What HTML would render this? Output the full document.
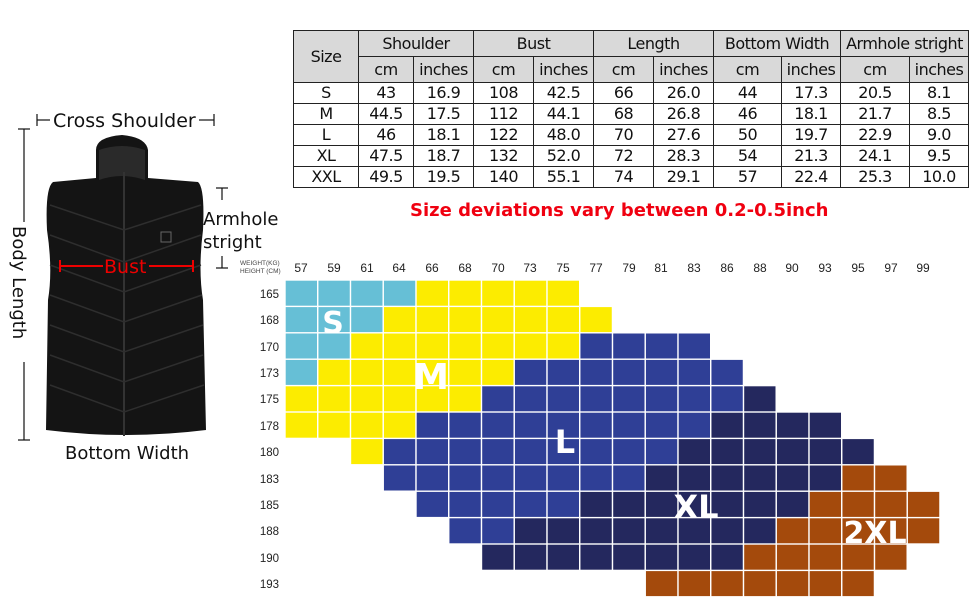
<!DOCTYPE html>
<html><head><meta charset="utf-8"><style>
body{margin:0;width:970px;height:600px;background:#fff;overflow:hidden;position:relative;font-family:"DejaVu Sans","Liberation Sans",sans-serif;}
table{position:absolute;left:293px;top:30px;border-collapse:collapse;font-size:16px;color:#111;}
td{border:1px solid #222;text-align:center;padding:0;height:20px;line-height:20px;letter-spacing:-0.5px}
tr.h td{background:#d9d9d9;height:25px;line-height:25px}
.t{position:absolute;white-space:nowrap}
</style></head><body>
<table>
<colgroup><col style="width:65px"><col style="width:55px"><col style="width:60px"><col style="width:60px"><col style="width:60px"><col style="width:60px"><col style="width:60px"><col style="width:68px"><col style="width:59px"><col style="width:69px"><col style="width:59px"></colgroup>
<tr class="h"><td rowspan="2">Size</td><td colspan="2">Shoulder</td><td colspan="2">Bust</td><td colspan="2">Length</td><td colspan="2">Bottom Width</td><td colspan="2">Armhole stright</td></tr>
<tr class="h"><td>cm</td><td>inches</td><td>cm</td><td>inches</td><td>cm</td><td>inches</td><td>cm</td><td>inches</td><td>cm</td><td>inches</td></tr>
<tr><td>S</td><td>43</td><td>16.9</td><td>108</td><td>42.5</td><td>66</td><td>26.0</td><td>44</td><td>17.3</td><td>20.5</td><td>8.1</td></tr>
<tr><td>M</td><td>44.5</td><td>17.5</td><td>112</td><td>44.1</td><td>68</td><td>26.8</td><td>46</td><td>18.1</td><td>21.7</td><td>8.5</td></tr>
<tr><td>L</td><td>46</td><td>18.1</td><td>122</td><td>48.0</td><td>70</td><td>27.6</td><td>50</td><td>19.7</td><td>22.9</td><td>9.0</td></tr>
<tr><td>XL</td><td>47.5</td><td>18.7</td><td>132</td><td>52.0</td><td>72</td><td>28.3</td><td>54</td><td>21.3</td><td>24.1</td><td>9.5</td></tr>
<tr><td>XXL</td><td>49.5</td><td>19.5</td><td>140</td><td>55.1</td><td>74</td><td>29.1</td><td>57</td><td>22.4</td><td>25.3</td><td>10.0</td></tr>
</table>
<div class="t" style="left:410px;top:200px;font-size:18px;font-weight:bold;color:#f00010;">Size deviations vary between 0.2-0.5inch</div>

<svg width="970" height="600" style="position:absolute;left:0;top:0" id="g">
<path d="M96,150 Q96,137 122,135 Q146,137 148,150 L148,178 L198,182 Q205,188 203,230 Q198,270 203,300 L206,430 Q126,440 46,430 L48,300 Q53,270 47,230 Q45,188 53,182 L96,178 Z" fill="#141414"/>
<path d="M99,150 Q122,142 145,150 L145,180 Q122,172 99,180 Z" fill="#2a2a2a"/>
<line x1="124" y1="172" x2="124" y2="436" stroke="#333" stroke-width="2"/>
<g stroke="#2e2e2e" stroke-width="1.5" fill="none">
<path d="M50,205 L124,230 L201,205"/><path d="M50,235 L124,262 L201,235"/><path d="M50,265 L124,292 L201,265"/><path d="M50,295 L124,322 L202,295"/><path d="M50,325 L124,352 L203,325"/><path d="M50,355 L124,382 L203,355"/><path d="M50,385 L124,412 L204,385"/>
</g>
<rect x="161" y="232" width="10" height="10" fill="none" stroke="#666"/>
<g stroke="#111" stroke-width="1.2">
<line x1="37" y1="114" x2="37" y2="126"/><line x1="37" y1="120" x2="50" y2="120"/>
<line x1="214" y1="114" x2="214" y2="126"/><line x1="199" y1="120" x2="214" y2="120"/>
<line x1="18" y1="129" x2="30" y2="129"/><line x1="24" y1="129" x2="24" y2="222"/>
<line x1="24" y1="362" x2="24" y2="440"/><line x1="18" y1="440" x2="30" y2="440"/>
<line x1="216" y1="188" x2="228" y2="188"/><line x1="222" y1="188" x2="222" y2="200"/>
<line x1="216" y1="268" x2="228" y2="268"/><line x1="222" y1="256" x2="222" y2="268"/>
</g>
<g stroke="#e00" stroke-width="2"><line x1="60" y1="266" x2="103" y2="266"/><line x1="149" y1="266" x2="193" y2="266"/><line x1="60" y1="260" x2="60" y2="272"/><line x1="193" y1="260" x2="193" y2="272"/></g>
<text x="53" y="127" font-size="19" fill="#111" font-family="DejaVu Sans,sans-serif">Cross Shoulder</text>
<text x="104" y="273" font-size="19" fill="#e00" font-family="DejaVu Sans,sans-serif">Bust</text>
<text x="203" y="225" font-size="18" fill="#111" font-family="DejaVu Sans,sans-serif">Armhole</text>
<text x="203" y="248" font-size="18" fill="#111" font-family="DejaVu Sans,sans-serif">stright</text>
<text x="65" y="459" font-size="18" fill="#111" font-family="DejaVu Sans,sans-serif">Bottom Width</text>
<text transform="translate(13,226) rotate(90)" font-size="18" fill="#111" font-family="DejaVu Sans,sans-serif">Body Length</text>
<text x="240" y="265" font-size="6.5" fill="#444" font-family="Liberation Sans,sans-serif">WEIGHT(KG)</text>
<text x="240" y="273" font-size="6.5" fill="#444" font-family="Liberation Sans,sans-serif">HEIGHT (CM)</text>
<g font-size="12" fill="#222" font-family="Liberation Sans,sans-serif" text-anchor="middle">
<text x="301" y="272">57</text><text x="334" y="272">59</text><text x="367" y="272">61</text><text x="399" y="272">64</text><text x="432" y="272">66</text><text x="465" y="272">68</text><text x="498" y="272">70</text><text x="530" y="272">73</text><text x="563" y="272">75</text><text x="596" y="272">77</text><text x="629" y="272">79</text><text x="661" y="272">81</text><text x="694" y="272">83</text><text x="727" y="272">86</text><text x="760" y="272">88</text><text x="792" y="272">90</text><text x="825" y="272">93</text><text x="858" y="272">95</text><text x="891" y="272">97</text><text x="923" y="272">99</text>
</g>
<g font-size="11.5" fill="#222" font-family="Liberation Sans,sans-serif" text-anchor="end">
<text x="279" y="298">165</text><text x="279" y="324">168</text><text x="279" y="351">170</text><text x="279" y="377">173</text><text x="279" y="403">175</text><text x="279" y="430">178</text><text x="279" y="456">180</text><text x="279" y="483">183</text><text x="279" y="509">185</text><text x="279" y="535">188</text><text x="279" y="562">190</text><text x="279" y="588">193</text>
</g>
<g id="cells"></g>
<g font-family="DejaVu Sans,sans-serif" font-weight="bold" fill="#fff" text-anchor="middle">
<text x="333" y="333" font-size="30">S</text>
<text x="431" y="389" font-size="36">M</text>
<text x="565" y="453" font-size="32">L</text>
<text x="696" y="518" font-size="32">XL</text>
<text x="875" y="543" font-size="30">2XL</text>
</g>
</svg>
<script>
var C={S:"#66bfd6",M:"#fcec00",L:"#2f3f96",X:"#24285e",Z:"#a44a0c"};
var rows=[[["S",0,3],["M",4,8]],[["S",0,2],["M",3,9]],[["S",0,1],["M",2,8],["L",9,12]],[["S",0,0],["M",1,6],["L",7,13]],[["M",0,5],["L",6,13],["X",14,14]],[["M",0,3],["L",4,12],["X",13,16]],[["M",2,2],["L",3,11],["X",12,17]],[["L",3,10],["X",11,16],["Z",17,18]],[["L",4,8],["X",9,15],["Z",16,19]],[["L",5,6],["X",7,14],["Z",15,19]],[["X",6,13],["Z",14,18]],[["Z",11,17]]];
var g=document.getElementById("cells"),s="";
rows.forEach(function(r,i){r.forEach(function(seg){for(var c=seg[1];c<=seg[2];c++){s+='<rect x="'+(285+c*32.75+0.7)+'" y="'+(280+i*26.4+0.7)+'" width="31.3" height="25" fill="'+C[seg[0]]+'"/>';}});});
g.innerHTML=s;
</script>
</body></html>
